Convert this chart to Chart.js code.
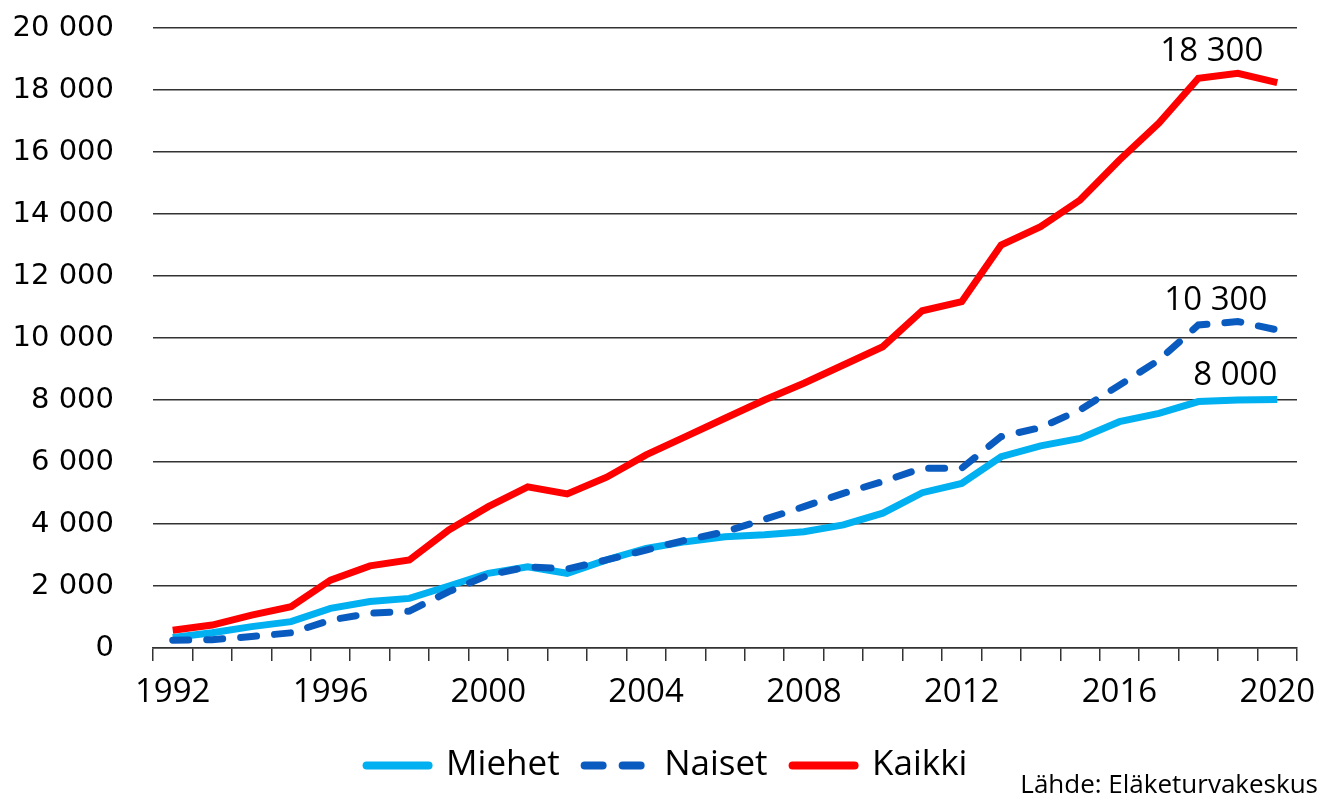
<!DOCTYPE html>
<html>
<head>
<meta charset="utf-8">
<script src="https://cdn.jsdelivr.net/npm/chart.js@4.4.1/dist/chart.umd.min.js"></script>
<style>
  html, body { margin: 0; padding: 0; background: #fff; }
  #wrap { width: 1334px; height: 798px; }
</style>
</head>
<body>
<div id="wrap"><canvas id="chart" width="1334" height="798"></canvas></div>
<script>
// -------------------------------------------------------
// DATA
// -------------------------------------------------------
const years = [1992, 1993, 1994, 1995, 1996, 1997, 1998, 1999, 2000, 2001,
               2002, 2003, 2004, 2005, 2006, 2007, 2008, 2009, 2010, 2011,
               2012, 2013, 2014, 2015, 2016, 2017, 2018, 2019, 2020];

const miehet = [340, 490, 690, 850, 1280, 1500, 1600, 2000, 2410, 2620,
                2410, 2840, 3210, 3430, 3590, 3650, 3750, 3970, 4350, 5010,
                5310, 6170, 6520, 6760, 7300, 7570, 7950, 8000, 8020];

const naiset = [250, 270, 370, 490, 900, 1120, 1190, 1820, 2350, 2620,
                2550, 2840, 3160, 3480, 3750, 4150, 4560, 4990, 5370, 5800,
                5800, 6820, 7110, 7680, 8480, 9290, 10420, 10530, 10260];

const kaikki = [570, 740, 1060, 1330, 2190, 2650, 2840, 3810, 4560, 5200,
                4970, 5510, 6230, 6820, 7410, 8000, 8540, 9130, 9720, 10880,
                11170, 13000, 13590, 14450, 15740, 16930, 18380, 18540, 18240];

const seriesNames = ['Miehet', 'Naiset', 'Kaikki'];
const endLabels = ['8 000', '10 300', '18 300'];
const sourceText = 'Lähde: Eläketurvakeskus';

// label nudges (px) relative to the last point of each line: [dx, lift]
const endLabelNudge = [[0, 14], [-10, 20], [-14, 22]];

// -------------------------------------------------------
// helpers
// -------------------------------------------------------
function fmtThousands(v) {
    return String(v).replace(/\B(?=(\d{3})+(?!\d))/g, ' ');
}

// labels at the end of each line + source note
const annotatePlugin = {
    id: 'annotate',
    afterDatasetsDraw(chart) {
        const ctx = chart.ctx;
        const x = chart.scales.x;
        const y = chart.scales.y;
        ctx.save();
        ctx.fillStyle = '#000';
        ctx.font = '33px "Open Sans"';
        ctx.textAlign = 'right';
        ctx.textBaseline = 'alphabetic';
        chart.data.datasets.forEach((ds, i) => {
            const last = ds.data.length - 1;
            const px = x.getPixelForValue(last);
            const py = y.getPixelForValue(ds.data[last]);
            ctx.fillText(endLabels[i], px + endLabelNudge[i][0], py - endLabelNudge[i][1]);
        });
        ctx.font = '26px "Open Sans"';
        ctx.fillText(sourceText, chart.width - 16, chart.height - 5);
        ctx.restore();
    }
};

new Chart(document.getElementById('chart'), {
    type: 'line',
    data: {
        labels: years,
        datasets: [
            {
                label: seriesNames[0],
                data: miehet,
                borderColor: '#00B0F0',
                backgroundColor: '#00B0F0',
                borderWidth: 7,
                pointRadius: 0,
                tension: 0,
                order: 3
            },
            {
                label: seriesNames[1],
                data: naiset,
                borderColor: '#0A5BBF',
                backgroundColor: '#0A5BBF',
                borderWidth: 7,
                borderDash: [16, 18],
                borderCapStyle: 'round',
                pointRadius: 0,
                tension: 0,
                order: 2
            },
            {
                label: seriesNames[2],
                data: kaikki,
                borderColor: '#FF0000',
                backgroundColor: '#FF0000',
                borderWidth: 7,
                pointRadius: 0,
                tension: 0,
                order: 1
            }
        ]
    },
    options: {
        responsive: false,
        animation: false,
        layout: { autoPadding: false, padding: { top: 28, left: 0, right: 0, bottom: 5 } },
        plugins: {
            legend: {
                position: 'bottom',
                labels: {
                    usePointStyle: true,
                    pointStyle: 'line',
                    pointStyleWidth: 62,
                    padding: 25,
                    color: '#000',
                    font: { family: '"Open Sans"', size: 35 },
                    sort: (a, b) => a.datasetIndex - b.datasetIndex,
                    generateLabels(chart) {
                        const items = Chart.defaults.plugins.legend.labels.generateLabels(chart);
                        items.forEach(it => {
                            const ds = chart.data.datasets[it.datasetIndex];
                            it.lineDash = ds.borderDash ? [18, 20] : [];
                            it.lineCap = 'round';
                            it.lineWidth = 8;
                        });
                        return items;
                    }
                }
            },
            tooltip: { enabled: false }
        },
        scales: {
            x: {
                type: 'category',
                offset: true,
                grid: {
                    display: true,
                    offset: true,
                    drawOnChartArea: false,
                    drawTicks: true,
                    tickLength: 13,
                    color: '#333',
                    lineWidth: 1.5
                },
                border: { display: true, color: '#333', width: 1.5 },
                ticks: {
                    autoSkip: false,
                    maxRotation: 0,
                    padding: 12,
                    color: '#000',
                    font: { family: '"Open Sans"', size: 33 },
                    callback: function(value, index) {
                        const yr = years[index];
                        return (yr - years[0]) % 4 === 0 ? String(yr) : '';
                    }
                },
                afterFit(scale) { scale.height = 75; }
            },
            y: {
                min: 0,
                max: 20000,
                grid: {
                    color: '#333',
                    lineWidth: 1.5,
                    drawTicks: false
                },
                border: { display: false },
                ticks: {
                    stepSize: 2000,
                    padding: 39,
                    color: '#000',
                    font: { family: '"DejaVu Sans"', size: 29 },
                    callback: v => fmtThousands(v)
                },
                afterFit(scale) {
                    scale.width = 153;
                    scale.paddingTop = 0;
                    scale.paddingBottom = 0;
                }
            },
            yRight: {
                position: 'right',
                display: true,
                grid: { display: false, drawTicks: false },
                border: { display: false },
                ticks: { display: false },
                afterFit(scale) {
                    scale.width = 37;
                    scale.paddingTop = 0;
                    scale.paddingBottom = 0;
                }
            }
        }
    },
    plugins: [annotatePlugin]
});
</script>
</body>
</html>
